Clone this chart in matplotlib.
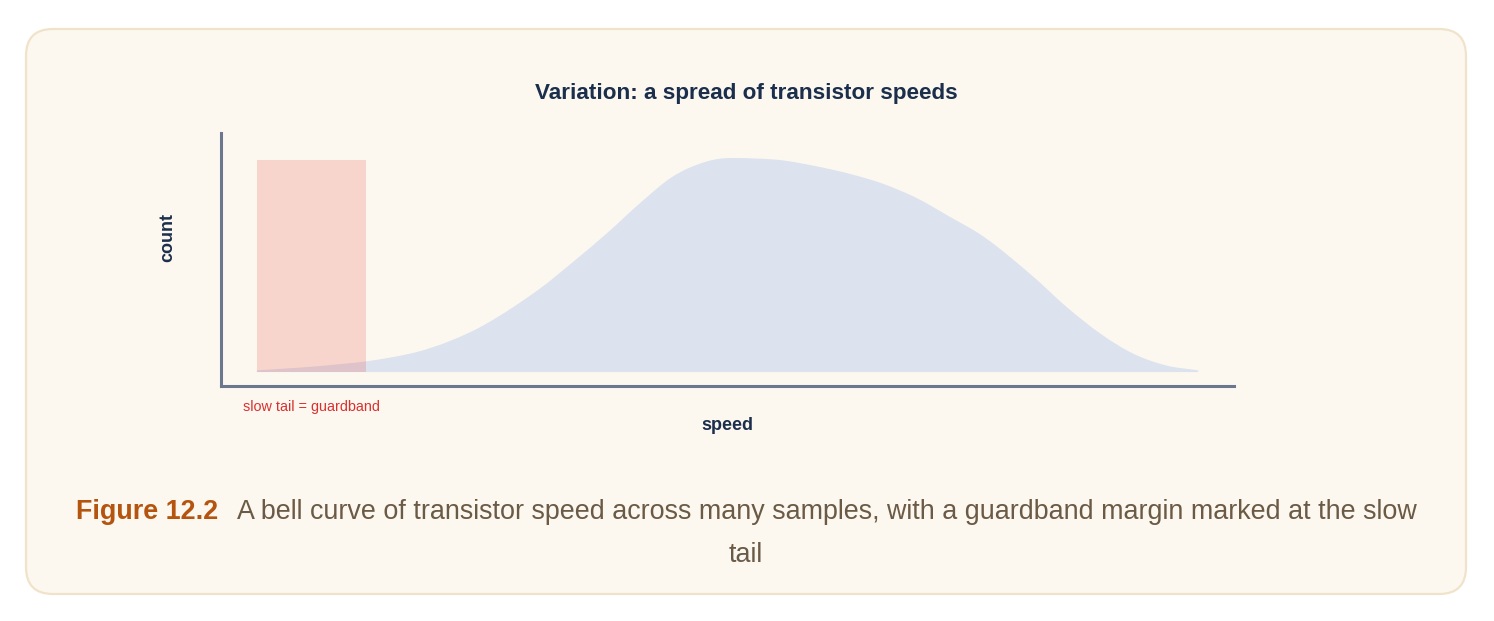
import matplotlib
matplotlib.use('Agg')
import matplotlib.pyplot as plt
from matplotlib.patches import FancyBboxPatch, Rectangle, PathPatch
from matplotlib.path import Path

plt.rcParams['font.family'] = ['Liberation Sans', 'DejaVu Sans']

# curve (speed in arbitrary units, count relative to peak)
speed = [0.0, 2.8, 6.4, 9.2, 11.6, 17.0, 20.5, 24.1, 30.1, 33.6, 37.2,
         40.7, 44.2, 47.8, 50.3, 53.5, 55.9, 59.5, 63.0, 66.5, 70.1, 73.6,
         77.2, 82.5, 86.0, 89.6, 93.1, 96.6, 100.0]
count = [0.8, 1.6, 2.7, 3.9, 5.0, 9.4, 14.5, 21.9, 39.1, 51.5, 64.9,
         78.9, 91.4, 98.4, 100.0, 99.7, 98.9, 96.1, 92.6, 88.0, 81.3, 72.6,
         63.3, 44.5, 30.5, 18.0, 8.6, 3.1, 0.8]

# slow-tail guardband
guard_lo = 0
guard_hi = 11.6
guard_top = 99.1

title = 'Variation: a spread of transistor speeds'
guard_label = 'slow tail = guardband'
fig_num = 'Figure 12.2'
caption1 = 'A bell curve of transistor speed across many samples, with a guardband margin marked at the slow'
caption2 = 'tail'


def smooth_area(xs, ys):
    # monotone cubic through the points, drawn as bezier segments
    n = len(xs)
    d = [(ys[i + 1] - ys[i]) / (xs[i + 1] - xs[i]) for i in range(n - 1)]
    m = [d[0]] + [0.0] * (n - 2) + [d[-1]]
    for i in range(1, n - 1):
        if d[i - 1] * d[i] > 0:
            m[i] = (d[i - 1] + d[i]) / 2
    verts = [(xs[0], 0), (xs[0], ys[0])]
    codes = [Path.MOVETO, Path.LINETO]
    for i in range(n - 1):
        h = xs[i + 1] - xs[i]
        verts += [(xs[i] + h / 3, ys[i] + m[i] * h / 3),
                  (xs[i + 1] - h / 3, ys[i + 1] - m[i + 1] * h / 3),
                  (xs[i + 1], ys[i + 1])]
        codes += [Path.CURVE4] * 3
    verts += [(xs[-1], 0), (xs[0], 0)]
    codes += [Path.LINETO, Path.CLOSEPOLY]
    return Path(verts, codes)


W, H = 1494, 621
fig = plt.figure(figsize=(W / 100, H / 100), dpi=100)
fig.patch.set_facecolor('white')

# card background
card = FancyBboxPatch((26 / W, 1 - 594 / H), (1466 - 26) / W, (594 - 29) / H,
                      boxstyle='round,pad=0,rounding_size=0.018',
                      transform=fig.transFigure, facecolor='#fcf8f0',
                      edgecolor='#f1e3ca', linewidth=1.6, zorder=-10,
                      mutation_aspect=W / H)
fig.patches.append(card)

ax = fig.add_axes([221 / W, 1 - 386 / H, (1234 - 221) / W, (386 - 133) / H])
ax.set_facecolor('none')
ax.set_zorder(5)

ax.add_patch(PathPatch(smooth_area(speed, count), facecolor='#dce3ee',
                       linewidth=0, zorder=1))
ax.add_patch(Rectangle((guard_lo, 0), guard_hi - guard_lo, guard_top,
                       facecolor='#e74c3c', alpha=0.2, linewidth=0, zorder=2))

ax.set_xlim(-3.8, 103.8)
ax.set_ylim(-6.5, 111.7)
ax.set_xticks([])
ax.set_yticks([])
for s in ['top', 'right']:
    ax.spines[s].set_visible(False)
for s in ['left', 'bottom']:
    ax.spines[s].set_color('#6b778c')
    ax.spines[s].set_linewidth(2.2)

ax.set_xlabel('speed', fontsize=13, fontweight='bold', color='#1b2e4b', labelpad=22)
fig.text(168 / W, 1 - 238 / H, 'count', fontsize=13, fontweight='bold',
         color='#1b2e4b', rotation=90, ha='center', va='center')

fig.text(243 / W, 1 - 407 / H, guard_label, fontsize=10.4, color='#d93030',
         ha='left', va='center')

fig.text(746 / W, 1 - 93 / H, title, fontsize=16.2, fontweight='bold',
         color='#1b2e4b', ha='center', va='center')

# caption: bold figure number + text, centred as one line
fig.canvas.draw()
r = fig.canvas.get_renderer()
t1 = fig.text(0, 1 - 512 / H, fig_num, fontsize=19.4, fontweight='bold',
              color='#b5540f', ha='left', va='center')
t2 = fig.text(0, 1 - 512 / H, caption1, fontsize=19.4, color='#6b5a45',
              ha='left', va='center')
w1 = t1.get_window_extent(r).width
w2 = t2.get_window_extent(r).width
gap = 18
x0 = (746.5 - (w1 + gap + w2) / 2)
t1.set_x(x0 / W)
t2.set_x((x0 + w1 + gap) / W)
fig.text(746 / W, 1 - 555 / H, caption2, fontsize=19.4, color='#6b5a45',
         ha='center', va='center')

fig.savefig('out.png', dpi=100, facecolor=fig.get_facecolor())
